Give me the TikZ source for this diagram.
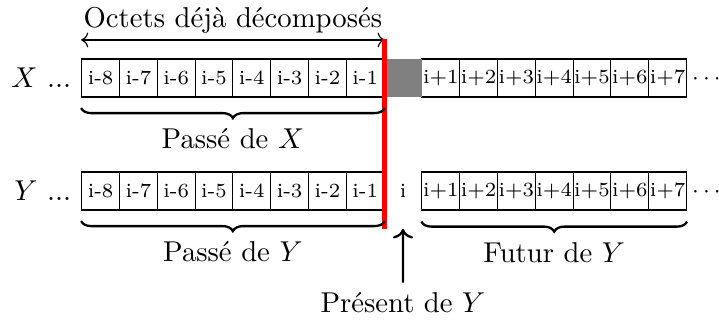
\documentclass[tikz,border=0pt]{standalone}
\usepackage{amsmath,amssymb}
\usepackage{tikz}
\usetikzlibrary{arrows.meta, positioning, calc, decorations.pathreplacing}
\tikzset{
  octetbox/.style={
    draw, inner sep=0pt,
    minimum width=13.17pt, minimum height=13.24pt,
    font=\scriptsize
  },
  moredots/.style={anchor=base, inner sep=0pt, font=\footnotesize},
  nowline/.style={red, line width=1.6pt},
  spanbrace/.style={decorate, decoration={brace, amplitude=3.5pt, mirror}, thick},
  spanlabel/.style={midway, below=3.5pt},
}

\begin{document}
\begin{tikzpicture}[x=0.3484pt, y=0.3484pt]
  \useasboundingbox (0,0) rectangle (719,-322);

  % Octets of X and Y
  \foreach \r/\yy in {X/-78, Y/-191} {
    \foreach \k/\lab in {0/i-8,1/i-7,2/i-6,3/i-5,4/i-4,5/i-3,6/i-2,7/i-1,
                         9/i+1,10/i+2,11/i+3,12/i+4,13/i+5,14/i+6,15/i+7}
      \node[octetbox] (\r\k) at ({81.7+37.8*(\k+0.5)}, \yy) {\lab};
  }
  \node[octetbox, draw=none, fill=gray] (X8) at ({81.7+37.8*8.5}, -78) {};
  \node[octetbox, draw=none] (Y8) at ({81.7+37.8*8.5}, -191) {i};

  % Row names
  \node[left=0pt of X0] (xname) {$X$ ...};
  \node[left=0pt of Y0] (yname) {$Y$ ...};
  \node[moredots] (xmore) at (708.5,-84) {$\cdots$};
  \node[moredots] (ymore) at (708.5,-197) {$\cdots$};

  % Already decomposed
  \draw[<->] ($(X0.north west)+(0,18.5)$) -- ($(X7.north east)+(0,18.5)$)
    node[midway, above, inner sep=2pt] (done) {Octets déjà décomposés};

  % Present boundary
  \draw[nowline] ($(X7.north east)+(0,19)$) -- ($(Y7.south east)+(0,-18.3)$);

  % Braces
  \draw[spanbrace] ($(X0.south west)+(0,-10.5)$) -- ($(X7.south east)+(0,-10.5)$)
    node[spanlabel] (xpast) {Passé de $X$};
  \draw[spanbrace] ($(Y0.south west)+(0,-10.5)$) -- ($(Y7.south east)+(0,-10.5)$)
    node[spanlabel] (ypast) {Passé de $Y$};
  \draw[spanbrace] ($(Y9.south west)+(0,-11)$) -- ($(Y15.south east)+(0,-11)$)
    node[spanlabel] (yfuture) {Futur de $Y$};

  % Present of Y
  \node (present) at (402.9,-303) {Présent de $Y$};
  \coordinate (presenttip) at ($(Y8.south)+(0,-18.3)$);
  \draw[->, thick] (present) -- (presenttip);
\end{tikzpicture}
\end{document}
